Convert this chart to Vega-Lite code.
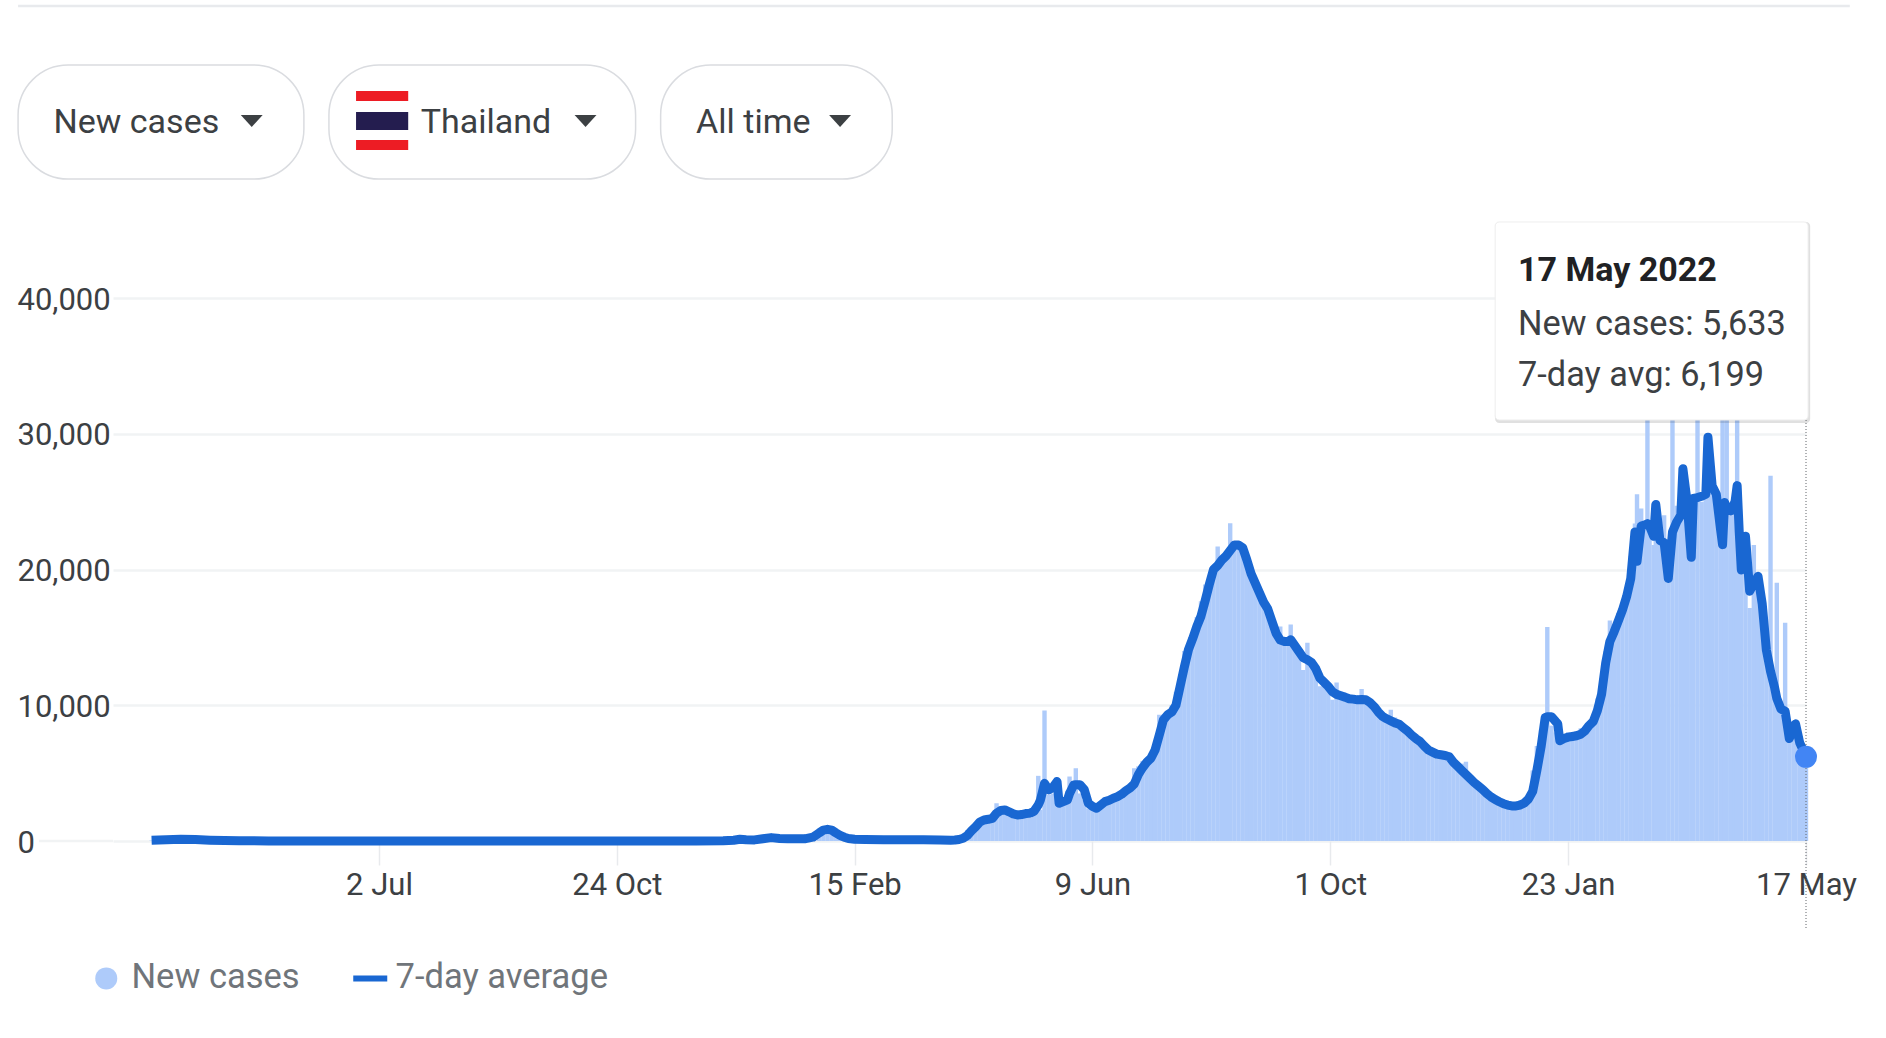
{
"$schema":"https://vega.github.io/schema/vega-lite/v6.json",
"autosize":"none","width":1693,"height":543,
"padding":{"left":113,"top":298,"right":80,"bottom":197},
"background":"#ffffff",
"config":{"view":{"stroke":null},"font":"Roboto"},
"datasets":{"daily":[
{"date":"2020-03-15","cases":30,"avg":50},{"date":"2020-03-22","cases":120,"avg":90},{"date":"2020-03-29","cases":140,"avg":120},{"date":"2020-04-05","cases":90,"avg":110},{"date":"2020-04-12","cases":40,"avg":60},{"date":"2020-04-19","cases":30,"avg":30},{"date":"2020-04-26","cases":15,"avg":15},{"date":"2020-05-10","cases":5,"avg":6},{"date":"2020-06-01","cases":3,"avg":4},{"date":"2020-07-01","cases":3,"avg":3},{"date":"2020-08-01","cases":3,"avg":3},{"date":"2020-09-01","cases":4,"avg":4},{"date":"2020-10-01","cases":5,"avg":5},{"date":"2020-11-01","cases":6,"avg":6},{"date":"2020-12-01","cases":8,"avg":8},{"date":"2020-12-14","cases":10,"avg":10},{"date":"2020-12-19","cases":60,"avg":60},{"date":"2020-12-22","cases":150,"avg":130},{"date":"2020-12-25","cases":100,"avg":100},{"date":"2020-12-29","cases":90,"avg":80},{"date":"2021-01-02","cases":190,"avg":170},{"date":"2021-01-06","cases":270,"avg":250},{"date":"2021-01-10","cases":190,"avg":190},{"date":"2021-01-14","cases":170,"avg":170},{"date":"2021-01-18","cases":170,"avg":170},{"date":"2021-01-22","cases":160,"avg":160},{"date":"2021-01-26","cases":300,"avg":280},{"date":"2021-01-29","cases":650,"avg":600},{"date":"2021-01-31","cases":800,"avg":800},{"date":"2021-02-02","cases":900,"avg":860},{"date":"2021-02-04","cases":800,"avg":800},{"date":"2021-02-06","cases":600,"avg":600},{"date":"2021-02-08","cases":420,"avg":420},{"date":"2021-02-10","cases":280,"avg":280},{"date":"2021-02-12","cases":180,"avg":180},{"date":"2021-02-15","cases":130,"avg":130},{"date":"2021-02-20","cases":110,"avg":110},{"date":"2021-03-01","cases":90,"avg":90},{"date":"2021-03-10","cases":85,"avg":85},{"date":"2021-03-20","cases":85,"avg":85},{"date":"2021-03-28","cases":70,"avg":70},
{"date":"2021-04-02","cases":70,"avg":60},{"date":"2021-04-04","cases":90,"avg":70},{"date":"2021-04-06","cases":250,"avg":110},{"date":"2021-04-08","cases":400,"avg":200},{"date":"2021-04-10","cases":800,"avg":400},{"date":"2021-04-12","cases":1000,"avg":750},{"date":"2021-04-14","cases":1350,"avg":1050},{"date":"2021-04-16","cases":1550,"avg":1400},{"date":"2021-04-18","cases":1600,"avg":1550},{"date":"2021-04-20","cases":1500,"avg":1600},{"date":"2021-04-22","cases":1450,"avg":1670},{"date":"2021-04-24","cases":2780,"avg":2050},{"date":"2021-04-26","cases":2150,"avg":2250},{"date":"2021-04-28","cases":2050,"avg":2290},{"date":"2021-04-30","cases":1900,"avg":2150},
{"date":"2021-05-02","cases":1900,"avg":2000},{"date":"2021-05-04","cases":1800,"avg":1920},{"date":"2021-05-06","cases":1950,"avg":1950},{"date":"2021-05-08","cases":2100,"avg":2020},{"date":"2021-05-10","cases":1700,"avg":2040},{"date":"2021-05-12","cases":2000,"avg":2200},{"date":"2021-05-14","cases":4800,"avg":2650},{"date":"2021-05-15","cases":2300,"avg":3000},{"date":"2021-05-17","cases":9620,"avg":4250},{"date":"2021-05-19","cases":3400,"avg":3760},{"date":"2021-05-21","cases":3500,"avg":3950},{"date":"2021-05-23","cases":3300,"avg":4380},{"date":"2021-05-24","cases":2800,"avg":2780},{"date":"2021-05-26","cases":3000,"avg":2900},{"date":"2021-05-28","cases":3700,"avg":3030},{"date":"2021-05-29","cases":4750,"avg":3500},{"date":"2021-05-31","cases":3700,"avg":4130},
{"date":"2021-06-01","cases":5360,"avg":4150},{"date":"2021-06-03","cases":3500,"avg":4150},{"date":"2021-06-05","cases":3000,"avg":3800},{"date":"2021-06-07","cases":2400,"avg":2780},{"date":"2021-06-09","cases":2300,"avg":2550},{"date":"2021-06-11","cases":2600,"avg":2410},{"date":"2021-06-13","cases":2800,"avg":2650},{"date":"2021-06-15","cases":3000,"avg":2900},{"date":"2021-06-17","cases":3100,"avg":3000},{"date":"2021-06-19","cases":3300,"avg":3150},{"date":"2021-06-21","cases":3500,"avg":3270},{"date":"2021-06-23","cases":3500,"avg":3450},{"date":"2021-06-25","cases":3900,"avg":3700},{"date":"2021-06-27","cases":4000,"avg":3900},{"date":"2021-06-29","cases":5360,"avg":4200},
{"date":"2021-07-01","cases":5500,"avg":4900},{"date":"2021-07-03","cases":5900,"avg":5400},{"date":"2021-07-05","cases":6100,"avg":5800},{"date":"2021-07-07","cases":6500,"avg":6100},{"date":"2021-07-09","cases":6900,"avg":6700},{"date":"2021-07-11","cases":9300,"avg":7800},{"date":"2021-07-13","cases":9300,"avg":8930},{"date":"2021-07-15","cases":9400,"avg":9300},{"date":"2021-07-17","cases":10000,"avg":9500},{"date":"2021-07-19","cases":11000,"avg":10000},{"date":"2021-07-21","cases":12000,"avg":11390},{"date":"2021-07-23","cases":14000,"avg":12800},{"date":"2021-07-25","cases":14460,"avg":14100},{"date":"2021-07-27","cases":15200,"avg":14900},{"date":"2021-07-29","cases":16500,"avg":15800},{"date":"2021-07-31","cases":17660,"avg":16560},
{"date":"2021-08-02","cases":18900,"avg":17700},{"date":"2021-08-04","cases":19000,"avg":18900},{"date":"2021-08-06","cases":20200,"avg":20000},{"date":"2021-08-08","cases":21700,"avg":20300},{"date":"2021-08-10","cases":20700,"avg":20700},{"date":"2021-08-12","cases":21000,"avg":21000},{"date":"2021-08-14","cases":23400,"avg":21400},{"date":"2021-08-16","cases":21600,"avg":21800},{"date":"2021-08-18","cases":21500,"avg":21800},{"date":"2021-08-20","cases":21200,"avg":21600},{"date":"2021-08-22","cases":20600,"avg":20700},{"date":"2021-08-24","cases":19500,"avg":19700},{"date":"2021-08-26","cases":18800,"avg":19000},{"date":"2021-08-28","cases":18100,"avg":18300},{"date":"2021-08-30","cases":17500,"avg":17600},
{"date":"2021-09-01","cases":16900,"avg":17100},{"date":"2021-09-03","cases":16000,"avg":16200},{"date":"2021-09-05","cases":15100,"avg":15300},{"date":"2021-09-07","cases":15800,"avg":14800},{"date":"2021-09-09","cases":14500,"avg":14700},{"date":"2021-09-11","cases":14500,"avg":14700},{"date":"2021-09-12","cases":15940,"avg":14830},{"date":"2021-09-14","cases":14200,"avg":14400},{"date":"2021-09-16","cases":13800,"avg":13950},{"date":"2021-09-18","cases":12600,"avg":13500},{"date":"2021-09-20","cases":14600,"avg":13350},{"date":"2021-09-22","cases":13000,"avg":13150},{"date":"2021-09-24","cases":12500,"avg":12700},{"date":"2021-09-26","cases":11400,"avg":12000},{"date":"2021-09-28","cases":11500,"avg":11700},{"date":"2021-09-30","cases":11200,"avg":11390},
{"date":"2021-10-02","cases":10400,"avg":11000},{"date":"2021-10-04","cases":11680,"avg":10800},{"date":"2021-10-06","cases":11000,"avg":10700},{"date":"2021-10-08","cases":10500,"avg":10600},{"date":"2021-10-10","cases":10400,"avg":10480},{"date":"2021-10-12","cases":10600,"avg":10450},{"date":"2021-10-14","cases":10200,"avg":10400},{"date":"2021-10-16","cases":11200,"avg":10420},{"date":"2021-10-18","cases":10500,"avg":10400},{"date":"2021-10-20","cases":10000,"avg":10200},{"date":"2021-10-22","cases":9800,"avg":9900},{"date":"2021-10-24","cases":9300,"avg":9500},{"date":"2021-10-26","cases":9000,"avg":9180},{"date":"2021-10-28","cases":9200,"avg":9000},{"date":"2021-10-30","cases":9670,"avg":8850},
{"date":"2021-11-01","cases":9100,"avg":8700},{"date":"2021-11-03","cases":8500,"avg":8600},{"date":"2021-11-05","cases":8200,"avg":8350},{"date":"2021-11-07","cases":8000,"avg":8100},{"date":"2021-11-09","cases":7700,"avg":7800},{"date":"2021-11-11","cases":7500,"avg":7545},{"date":"2021-11-13","cases":7300,"avg":7330},{"date":"2021-11-15","cases":6900,"avg":7000},{"date":"2021-11-17","cases":6600,"avg":6700},{"date":"2021-11-19","cases":6700,"avg":6550},{"date":"2021-11-21","cases":6300,"avg":6400},{"date":"2021-11-23","cases":6400,"avg":6350},{"date":"2021-11-25","cases":6600,"avg":6300},{"date":"2021-11-27","cases":6500,"avg":6200},{"date":"2021-11-29","cases":6000,"avg":5800},
{"date":"2021-12-01","cases":5400,"avg":5500},{"date":"2021-12-03","cases":5700,"avg":5200},{"date":"2021-12-05","cases":5840,"avg":4900},{"date":"2021-12-07","cases":4500,"avg":4600},{"date":"2021-12-09","cases":4100,"avg":4300},{"date":"2021-12-11","cases":3900,"avg":4050},{"date":"2021-12-13","cases":3700,"avg":3800},{"date":"2021-12-15","cases":3400,"avg":3500},{"date":"2021-12-17","cases":3200,"avg":3250},{"date":"2021-12-19","cases":3000,"avg":3050},{"date":"2021-12-21","cases":2800,"avg":2890},{"date":"2021-12-23","cases":2700,"avg":2750},{"date":"2021-12-25","cases":2600,"avg":2650},{"date":"2021-12-27","cases":2500,"avg":2580},{"date":"2021-12-29","cases":2700,"avg":2580},{"date":"2021-12-31","cases":3000,"avg":2650},
{"date":"2022-01-02","cases":3100,"avg":2800},{"date":"2022-01-04","cases":3400,"avg":3100},{"date":"2022-01-06","cases":5200,"avg":3660},{"date":"2022-01-08","cases":7000,"avg":5200},{"date":"2022-01-10","cases":8200,"avg":6920},{"date":"2022-01-12","cases":8000,"avg":9100},{"date":"2022-01-13","cases":15770,"avg":9150},{"date":"2022-01-15","cases":8500,"avg":9160},{"date":"2022-01-17","cases":8000,"avg":8800},{"date":"2022-01-18","cases":8000,"avg":8630},{"date":"2022-01-19","cases":7900,"avg":7390},{"date":"2022-01-21","cases":7800,"avg":7550},{"date":"2022-01-23","cases":8000,"avg":7650},{"date":"2022-01-25","cases":7800,"avg":7700},{"date":"2022-01-27","cases":8100,"avg":7750},{"date":"2022-01-29","cases":8300,"avg":7860},{"date":"2022-01-31","cases":8200,"avg":8100},
{"date":"2022-02-02","cases":8800,"avg":8500},{"date":"2022-02-04","cases":9000,"avg":8800},{"date":"2022-02-06","cases":10500,"avg":9600},{"date":"2022-02-08","cases":12000,"avg":10800},{"date":"2022-02-10","cases":14000,"avg":13130},{"date":"2022-02-12","cases":16240,"avg":14700},{"date":"2022-02-14","cases":15500,"avg":15400},{"date":"2022-02-16","cases":16800,"avg":16200},{"date":"2022-02-18","cases":17200,"avg":17000},{"date":"2022-02-20","cases":18700,"avg":18000},{"date":"2022-02-22","cases":21000,"avg":19340},{"date":"2022-02-24","cases":23380,"avg":22760},{"date":"2022-02-25","cases":25550,"avg":20600},{"date":"2022-02-27","cases":24500,"avg":23200},
{"date":"2022-03-01","cases":23000,"avg":23300},{"date":"2022-03-02","cases":34000,"avg":23380},{"date":"2022-03-03","cases":22600,"avg":23200},{"date":"2022-03-05","cases":21800,"avg":22450},{"date":"2022-03-06","cases":23000,"avg":24780},{"date":"2022-03-08","cases":22000,"avg":22140},{"date":"2022-03-10","cases":24000,"avg":21980},{"date":"2022-03-12","cases":19000,"avg":19340},{"date":"2022-03-14","cases":33000,"avg":22760},{"date":"2022-03-16","cases":24700,"avg":23500},{"date":"2022-03-18","cases":24000,"avg":24000},{"date":"2022-03-19","cases":25000,"avg":27420},{"date":"2022-03-21","cases":24500,"avg":25000},{"date":"2022-03-23","cases":21000,"avg":20900},{"date":"2022-03-24","cases":25000,"avg":25240},{"date":"2022-03-26","cases":33500,"avg":25300},{"date":"2022-03-28","cases":25000,"avg":25400},{"date":"2022-03-30","cases":26000,"avg":25550},{"date":"2022-03-31","cases":27000,"avg":29750},
{"date":"2022-04-02","cases":25800,"avg":26180},{"date":"2022-04-04","cases":25000,"avg":25550},{"date":"2022-04-06","cases":22800,"avg":23000},{"date":"2022-04-07","cases":32000,"avg":21830},{"date":"2022-04-08","cases":24000,"avg":24930},{"date":"2022-04-09","cases":33000,"avg":24500},{"date":"2022-04-11","cases":24000,"avg":24310},{"date":"2022-04-13","cases":24500,"avg":25000},{"date":"2022-04-14","cases":33000,"avg":26180},{"date":"2022-04-15","cases":22500,"avg":22760},{"date":"2022-04-16","cases":20000,"avg":19960},{"date":"2022-04-18","cases":22000,"avg":22450},{"date":"2022-04-20","cases":17170,"avg":18400},{"date":"2022-04-22","cases":21800,"avg":19000},{"date":"2022-04-24","cases":18500,"avg":19500},{"date":"2022-04-26","cases":17000,"avg":17480},{"date":"2022-04-28","cases":13800,"avg":14070},{"date":"2022-04-30","cases":26900,"avg":12500},
{"date":"2022-05-02","cases":11000,"avg":11270},{"date":"2022-05-03","cases":19030,"avg":10500},{"date":"2022-05-05","cases":9500,"avg":9720},{"date":"2022-05-07","cases":16080,"avg":9560},{"date":"2022-05-09","cases":7500,"avg":7550},{"date":"2022-05-11","cases":8000,"avg":8400},{"date":"2022-05-12","cases":8300,"avg":8630},{"date":"2022-05-14","cases":7100,"avg":7230},{"date":"2022-05-15","cases":6700,"avg":6900},{"date":"2022-05-17","cases":5633,"avg":6199}
]},
"layer":[
{"data":{"name":"daily"},"mark":{"type":"bar","width":4.4,"clip":false},
 "encoding":{
  "x":{"field":"date","type":"temporal","title":null,
   "scale":{"type":"utc","padding":0,"domain":[{"year":2020,"month":2,"date":25,"hours":12,"utc":true},{"year":2022,"month":5,"date":17,"utc":true}]},
   "axis":{"values":[{"year":2020,"month":7,"date":2,"utc":true},{"year":2020,"month":10,"date":24,"utc":true},{"year":2021,"month":2,"date":15,"utc":true},{"year":2021,"month":6,"date":9,"utc":true},{"year":2021,"month":10,"date":1,"utc":true},{"year":2022,"month":1,"date":23,"utc":true},{"year":2022,"month":5,"date":17,"utc":true}],"format":"%-d %b","grid":false,"domain":false,"tickColor":"#e8eaed","tickWidth":1.5,"tickSize":24,"labelFontSize":31,"labelColor":"#3c4043","labelPadding":5,"labelOverlap":false,"labelFlush":false,"labelFont":"Roboto"}},
  "y":{"field":"cases","type":"quantitative","title":null,
   "scale":{"domain":[0,40000],"nice":false},
   "axis":{"values":[0,10000,20000,30000,40000],"format":",.0f","grid":true,"gridColor":"#f1f3f4","gridWidth":2.5,"domain":false,"ticks":false,"labelAlign":"left","labelPadding":96,"labelFontSize":31,"labelColor":"#3c4043","labelFont":"Roboto","labelOffset":2}},
  "color":{"datum":"New cases","scale":{"domain":["New cases","7-day average"],"range":["#aecbfa","#1967d2"]},
   "legend":{"orient":"none","legendX":-24,"legendY":663,"direction":"horizontal","title":null,"labelFontSize":34.5,"labelColor":"#70757a","labelFont":"Roboto","labelLimit":400,"columnPadding":41,"symbolOffset":0,"padding":0,"rowPadding":0,"labelOffset":8,"symbolStrokeWidth":0,
    "encode":{"symbols":{"update":{"shape":{"signal":"datum.value==='New cases'?'circle':'stroke'"},"size":{"signal":"datum.value==='New cases'?484:1156"},"strokeWidth":{"signal":"datum.value==='New cases'?0:6"},"stroke":{"signal":"datum.value==='New cases'?'#aecbfa':'#1967d2'"},"fill":{"signal":"datum.value==='New cases'?'#aecbfa':'#1967d2'"},"opacity":{"value":1}}}}}}
 }},
{"data":{"values":[{}]},"mark":{"type":"rule","color":"#f1f3f4","strokeWidth":2.5,"clip":false},"encoding":{"x":{"datum":{"year":2020,"month":1,"date":21,"utc":true},"type":"temporal"},"x2":{"datum":{"year":2020,"month":2,"date":25,"hours":12,"utc":true}},"y":{"datum":0,"type":"quantitative"}}},
{"data":{"name":"daily"},"mark":{"type":"line","strokeWidth":9,"strokeJoin":"round","strokeCap":"butt","clip":false},
 "encoding":{"x":{"field":"date","type":"temporal"},"y":{"field":"avg","type":"quantitative"},"color":{"datum":"7-day average"}}},
{"data":{"values":[{}]},"mark":{"type":"rule","color":"#5f6368","strokeWidth":1,"strokeDash":[1,2],"clip":false},"encoding":{"x":{"datum":{"year":2022,"month":5,"date":17,"utc":true},"type":"temporal"},"y":{"datum":31013,"type":"quantitative"},"y2":{"datum":-6480}}},
{"data":{"values":[{"date":"2022-05-17","avg":6199}]},"mark":{"type":"point","shape":"circle","filled":true,"size":484,"color":"#4285f4","opacity":1,"clip":false},"encoding":{"x":{"field":"date","type":"temporal"},"y":{"field":"avg","type":"quantitative"}}},
{"data":{"values":[{}]},"mark":{"type":"rule","color":"#e8eaed","strokeWidth":2.5,"clip":false},"encoding":{"x":{"datum":{"year":2020,"month":1,"date":11,"utc":true},"type":"temporal"},"x2":{"datum":{"year":2022,"month":6,"date":7,"utc":true}},"y":{"datum":61510,"type":"quantitative"}}},
{"data":{"values":[{"x":"2020-01-11","x2":"2020-05-27"},{"x":"2020-06-08","x2":"2020-11-02"},{"x":"2020-11-14","x2":"2021-03-05"}]},"mark":{"type":"rect","fill":"#ffffff","stroke":"#dadce0","strokeWidth":1.5,"cornerRadius":50,"clip":false},"encoding":{"x":{"field":"x","type":"temporal"},"x2":{"field":"x2"},"y":{"datum":57164,"type":"quantitative"},"y2":{"datum":48766}}},
{"data":{"values":[{"label":"New cases","x":"2020-01-28"},{"label":"Thailand","x":"2020-07-22"},{"label":"All time","x":"2020-12-01"}]},"mark":{"type":"text","align":"left","baseline":"middle","font":"Roboto","fontSize":34,"color":"#3c4043","clip":false},"encoding":{"x":{"field":"x","type":"temporal"},"y":{"datum":52900,"type":"quantitative"},"text":{"field":"label"}}},
{"data":{"values":[{"x":"2020-05-02"},{"x":"2020-10-09"},{"x":"2021-02-08"}]},"mark":{"type":"point","shape":"M-1,-0.55L1,-0.55L0,0.55Z","filled":true,"size":480,"color":"#3c4043","opacity":1,"clip":false},"encoding":{"x":{"field":"x","type":"temporal"},"y":{"datum":53040,"type":"quantitative"}}},
{"data":{"values":[{"band":"red1","top":55249,"bottom":54512},{"band":"white1","top":54512,"bottom":53702},{"band":"navy","top":53702,"bottom":52376},{"band":"white2","top":52376,"bottom":51639},{"band":"red2","top":51639,"bottom":50902}]},"mark":{"type":"rect","clip":false},"encoding":{"x":{"datum":{"year":2020,"month":6,"date":21,"utc":true},"type":"temporal"},"x2":{"datum":{"year":2020,"month":7,"date":16,"utc":true}},"y":{"field":"top","type":"quantitative"},"y2":{"field":"bottom"},"fill":{"field":"band","type":"nominal","legend":null,"scale":{"domain":["red1","white1","navy","white2","red2"],"range":["#ed1c24","#ffffff","#241d4f","#ffffff","#ed1c24"]}}}},
{"data":{"values":[{}]},"mark":{"type":"rect","fill":"#000000","opacity":0.12,"cornerRadius":4,"clip":false},"encoding":{"x":{"datum":{"year":2021,"month":12,"date":19,"utc":true},"type":"temporal"},"x2":{"datum":{"year":2022,"month":5,"date":19,"utc":true}},"y":{"datum":45600,"type":"quantitative"},"y2":{"datum":30800}}},
{"data":{"values":[{}]},"mark":{"type":"rect","fill":"#ffffff","stroke":"#eeeeee","strokeWidth":1,"cornerRadius":4,"clip":false},"encoding":{"x":{"datum":{"year":2021,"month":12,"date":19,"utc":true},"type":"temporal"},"x2":{"datum":{"year":2022,"month":5,"date":18,"utc":true}},"y":{"datum":45600,"type":"quantitative"},"y2":{"datum":31013}}},
{"data":{"values":[{"label":"17 May 2022","v":42000}]},"mark":{"type":"text","align":"left","baseline":"middle","font":"Roboto","fontSize":34,"fontWeight":"bold","color":"#202124","clip":false},"encoding":{"x":{"datum":{"year":2021,"month":12,"date":30,"utc":true},"type":"temporal"},"y":{"field":"v","type":"quantitative"},"text":{"field":"label"}}},
{"data":{"values":[{"label":"New cases: 5,633","v":38000},{"label":"7-day avg: 6,199","v":34250}]},"mark":{"type":"text","align":"left","baseline":"middle","font":"Roboto","fontSize":34.3,"color":"#3c4043","clip":false},"encoding":{"x":{"datum":{"year":2021,"month":12,"date":30,"utc":true},"type":"temporal"},"y":{"field":"v","type":"quantitative"},"text":{"field":"label"}}}
],
"resolve":{"scale":{"fill":"independent"}}
}
